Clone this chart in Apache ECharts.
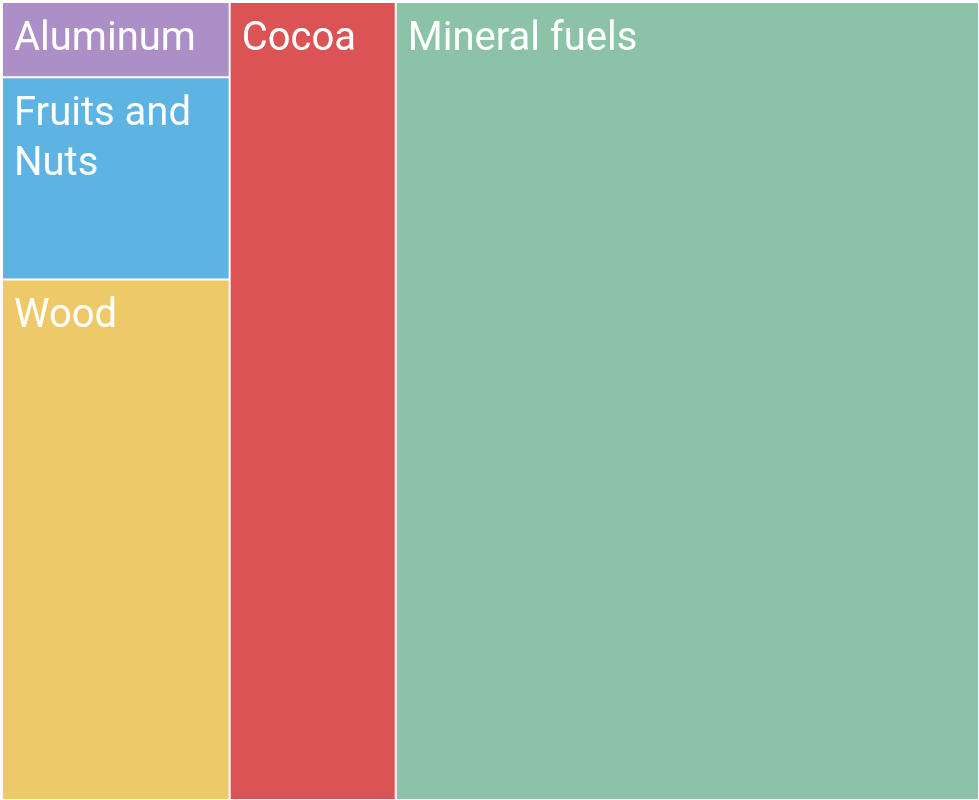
<!DOCTYPE html>
<html>
<head>
<meta charset="utf-8">
<script src="https://cdn.jsdelivr.net/npm/echarts@6/dist/echarts.min.js"></script>
<style>
  html, body { margin: 0; padding: 0; background: #fff; }
  #main { width: 979px; height: 800px; }
</style>
</head>
<body>
<div id="main"></div>
<script>
// export categories and their share (read from tile areas)
let categories = ['Aluminum', 'Fruits and Nuts', 'Wood', 'Cocoa', 'Mineral fuels'];
let values = [2.2, 5.9, 15.2, 17.0, 59.7];
let colors = ['#ab8fc6', '#5db4e3', '#eec96a', '#db5354', '#8cc3a7'];

let chart = echarts.init(document.getElementById('main'));

let option = {
  series: [{
    type: 'treemap',
    left: 1,
    top: 1,
    right: -1,
    bottom: -1,
    sort: 'asc',
    roam: false,
    nodeClick: false,
    breadcrumb: { show: false },
    label: {
      show: true,
      position: 'insideTopLeft',
      color: '#fff',
      fontFamily: 'Roboto',
      fontSize: 40,
      lineHeight: 50,
      padding: [12, 11, 0, 11],
      overflow: 'break'
    },
    itemStyle: {
      borderColor: '#fff',
      borderWidth: 1,
      gapWidth: 0
    },
    data: categories.map(function(name, i) {
      return {
        name: name,
        value: values[i],
        itemStyle: { color: colors[i] }
      };
    })
  }]
};

chart.setOption(option);
</script>
</body>
</html>
